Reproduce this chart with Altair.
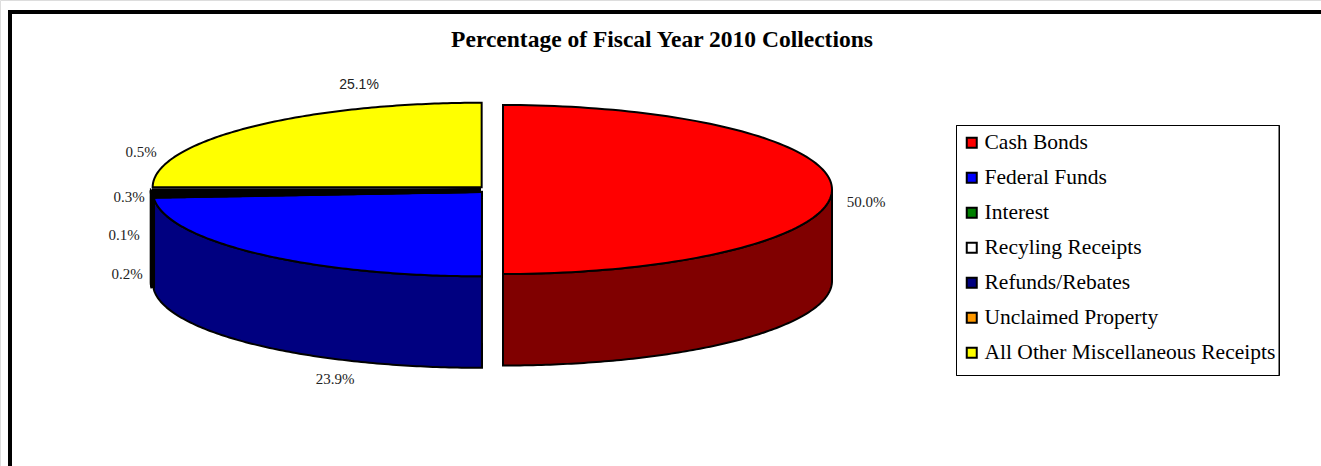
import numpy as np
import pandas as pd
import altair as alt

# Collections by source, in percent of the fiscal year total
categories = [
    "Cash Bonds",
    "Federal Funds",
    "Interest",
    "Recyling Receipts",
    "Refunds/Rebates",
    "Unclaimed Property",
    "All Other Miscellaneous Receipts",
]
shares = [50.0, 23.9, 0.2, 0.1, 0.3, 0.5, 25.1]
share_labels = ["50.0%", "23.9%", "0.2%", "0.1%", "0.3%", "0.5%", "25.1%"]
top_colors = ["#ff0000", "#0000ff", "#008000", "#ffffff", "#000080", "#ff9900", "#ffff00"]
side_colors = ["#800000", "#000080", "#004000", "#808080", "#000040", "#804c00", "#808000"]
thin_slices = ["Interest", "Recyling Receipts", "Refunds/Rebates", "Unclaimed Property"]

# Where each percentage label sits on the page
label_x = [866, 335, 127, 124, 129, 141, 359]
label_y = [202, 379, 274, 235, 197, 152, 85]

# Pie geometry on a page-sized coordinate system
CX, CY = 490.5, 189.5
RX, RY = 329.0, 84.5
DEPTH = 91.5
EXPLODE = 12.5
THIN_EXPLODE = 9.5
PAGE_W, PAGE_H = 1321, 466


def envelope(poly):
    """Turn an x-monotone outline into x / upper / lower columns for an area mark."""
    poly = np.asarray(poly)
    xs = np.unique(np.round(poly[:, 0], 3))
    rows = []
    nxt = np.roll(poly, -1, axis=0)
    for x in xs:
        ys = []
        for (x0, y0), (x1, y1) in zip(poly, nxt):
            lo, hi = min(x0, x1), max(x0, x1)
            if lo - 1e-3 <= x <= hi + 1e-3:
                if abs(x1 - x0) < 1e-6:
                    ys += [y0, y1]
                else:
                    ys.append(y0 + (y1 - y0) * (x - x0) / (x1 - x0))
        rows.append((x, min(ys), max(ys)))
    return rows


# The rounded shares add up to 100.1, so the last slice closes at the full circle
ends = np.minimum(np.cumsum(shares) / 100.0, 1.0)
starts = np.concatenate([[0.0], ends[:-1]])

face_rows, side_rows = [], []
for i, name in enumerate(categories):
    f0, f1 = starts[i], ends[i]
    mid = 2 * np.pi * (f0 + f1) / 2
    thin = name in thin_slices
    pull = THIN_EXPLODE if thin else EXPLODE
    cx = CX + pull * np.sin(mid)
    cy = CY - pull * (RY / RX) * np.cos(mid) + (1.0 if thin else 0.0)

    ang = 2 * np.pi * np.linspace(f0, f1, 121)
    arc = np.column_stack([cx + RX * np.sin(ang), cy - RY * np.cos(ang)])
    for x, y, y2 in envelope(np.vstack([[cx, cy], arc])):
        face_rows.append(dict(category=name, thin=thin, x=x, y=y, y2=y2))

    # Only the part of the rim facing the viewer gets a side wall
    g0, g1 = max(f0, 0.25), min(f1, 0.75)
    if g1 > g0:
        ang = 2 * np.pi * np.linspace(g0, g1, 121)
        xs = cx + RX * np.sin(ang)
        ys = cy - RY * np.cos(ang)
        for x, y in zip(xs, ys):
            side_rows.append(dict(category=name, thin=thin, x=x, y=y, y2=y + DEPTH,
                                  shade=side_colors[i]))

faces = pd.DataFrame(face_rows)
sides = pd.DataFrame(side_rows)
labels = pd.DataFrame({"text": share_labels, "x": label_x, "y": label_y})
serif_labels = labels[labels["text"] != "25.1%"]
sans_labels = labels[labels["text"] == "25.1%"]

x_scale = alt.Scale(domain=[0, PAGE_W], range=[0, PAGE_W], nice=False, zero=False)
y_scale = alt.Scale(domain=[0, PAGE_H], range=[0, PAGE_H], nice=False, zero=False)
x_enc = alt.X("x:Q", scale=x_scale, axis=None)
y_enc = alt.Y("y:Q", scale=y_scale, axis=None)

slice_color = alt.Color(
    "category:N",
    sort=categories,
    scale=alt.Scale(domain=categories, range=top_colors),
    legend=alt.Legend(
        title=None,
        orient="none",
        legendX=953,
        legendY=124,
        direction="vertical",
        padding=8,
        symbolType="square",
        symbolSize=100,
        symbolStrokeColor="black",
        symbolStrokeWidth=2,
        labelFont="Liberation Serif",
        labelFontSize=21.5,
        labelColor="black",
        labelLimit=400,
        labelOffset=2,
        rowPadding=12,
        symbolOpacity=1,
    ),
)


def side_marks(frame, stroke_width):
    return (
        alt.Chart(frame)
        .mark_area(stroke="black", strokeWidth=stroke_width)
        .encode(x=x_enc, y=y_enc, y2="y2:Q", color=alt.Color("shade:N", scale=None),
                detail="category:N")
    )


def face_marks(frame, stroke_width, color):
    return (
        alt.Chart(frame)
        .mark_area(stroke="black", strokeWidth=stroke_width)
        .encode(x=x_enc, y=y_enc, y2="y2:Q", color=color)
    )


wide_sides = side_marks(sides[~sides["thin"]], 2)
wide_faces = face_marks(faces[~faces["thin"]], 2, slice_color)

# The four sliver slices are so narrow that their outlines merge into a solid band
thin_sides = side_marks(sides[sides["thin"]], 4.5)
thin_faces = face_marks(
    faces[faces["thin"]], 4.5,
    alt.Color("category:N", scale=alt.Scale(domain=categories, range=top_colors), legend=None),
)

serif_text = (
    alt.Chart(serif_labels)
    .mark_text(font="Liberation Serif", fontSize=15, color="#222222")
    .encode(x=x_enc, y=y_enc, text="text:N")
)
sans_text = (
    alt.Chart(sans_labels)
    .mark_text(font="Liberation Sans", fontSize=14, color="#222222")
    .encode(x=x_enc, y=y_enc, text="text:N")
)

# Heavy frame along the top and left of the page, and the legend's box
frame_top = alt.Chart(labels).mark_rule(color="black", strokeWidth=4).encode(
    x=alt.value(8), x2=alt.value(PAGE_W), y=alt.value(12)
)
frame_left = alt.Chart(labels).mark_rule(color="black", strokeWidth=4).encode(
    x=alt.value(10), y=alt.value(10), y2=alt.value(PAGE_H)
)
legend_box = alt.Chart(labels).mark_rect(fill="white", stroke="black", strokeWidth=1).encode(
    x=alt.value(956.5), x2=alt.value(1279), y=alt.value(125.5), y2=alt.value(375.5)
)

chart = (
    alt.layer(
        frame_top, frame_left, legend_box,
        wide_sides, wide_faces, thin_sides, thin_faces,
        serif_text, sans_text,
    )
    .resolve_scale(color="independent")
    .properties(
        width=PAGE_W,
        height=PAGE_H,
        padding=0,
        autosize=alt.AutoSizeParams(type="none"),
        title=alt.TitleParams(
            "Percentage of Fiscal Year 2010 Collections",
            font="Liberation Serif",
            fontSize=23.5,
            fontWeight="bold",
            color="black",
            anchor="middle",
            offset=-51,
            dx=1.5,
        ),
    )
    .configure_view(stroke=None)
    .configure(background="white")
)

chart.save("out.html", embed_options={"renderer": "svg", "actions": False})
